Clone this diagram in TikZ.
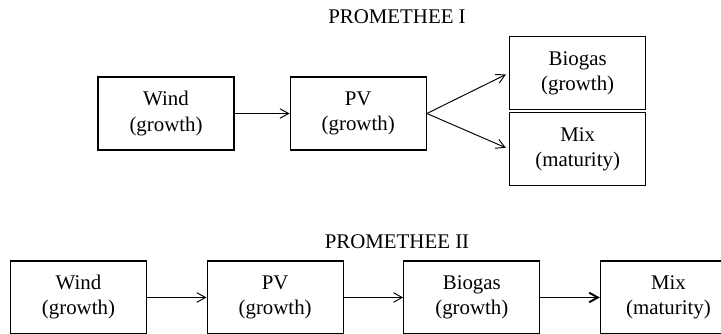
\documentclass[tikz,border=0pt]{standalone}
\usepackage{fontspec}
\setmainfont{Liberation Serif}
\usepackage{tikz}
\usetikzlibrary{
  arrows.meta,
  positioning
}

\begin{document}
\begin{tikzpicture}[
  node distance=1.2cm,
  every node/.style={font=\fontsize{12}{14.4}\selectfont},
  box/.style={
    rectangle, draw=black, line width=0.7pt,
    minimum width=2.75cm, minimum height=1.475cm,
    align=center, inner sep=2pt
  },
  title/.style={inner sep=0pt},
  arr/.style={-{Straight Barb[length=5pt,width=5.5pt]}, line width=0.55pt},
  thickarr/.style={arr, line width=1.1pt}
]
  % Frame
  \clip (0,0) rectangle (14.571,-6.730);

  % PROMETHEE I
  \node[title] (t1) at (8.023,-0.344) {PROMETHEE I};
  \node[box] (wind1) at (3.355,-2.294) {Wind\\(growth)};
  \node[box, right=1.11cm of wind1] (pv1) {PV\\(growth)};
  \node[box, right=1.66cm of pv1, yshift=0.82cm] (biogas1) {Biogas\\(growth)};
  \node[box, below=0.04cm of biogas1] (mix1) {Mix\\(maturity)};

  % PROMETHEE II
  \node[title] (t2) at (8.023,-4.891) {PROMETHEE II};
  \node[box] (wind2) at (1.586,-6.012) {Wind\\(growth)};
  \node[box, right=of wind2] (pv2) {PV\\(growth)};
  \node[box, right=of pv2] (biogas2) {Biogas\\(growth)};
  \node[box, right=of biogas2] (mix2) {Mix\\(maturity)};

  % Arrows
  \draw[arr] (wind1) -- (pv1);
  \draw[arr, shorten >=2pt] (pv1.east) -- (biogas1.west);
  \draw[arr, shorten >=2pt] (pv1.east) -- (mix1.west);
  \foreach \from/\to in {wind2/pv2, pv2/biogas2} {
    \draw[arr] (\from) -- (\to);
  }
  \draw[thickarr] (biogas2) -- (mix2);
\end{tikzpicture}
\end{document}
